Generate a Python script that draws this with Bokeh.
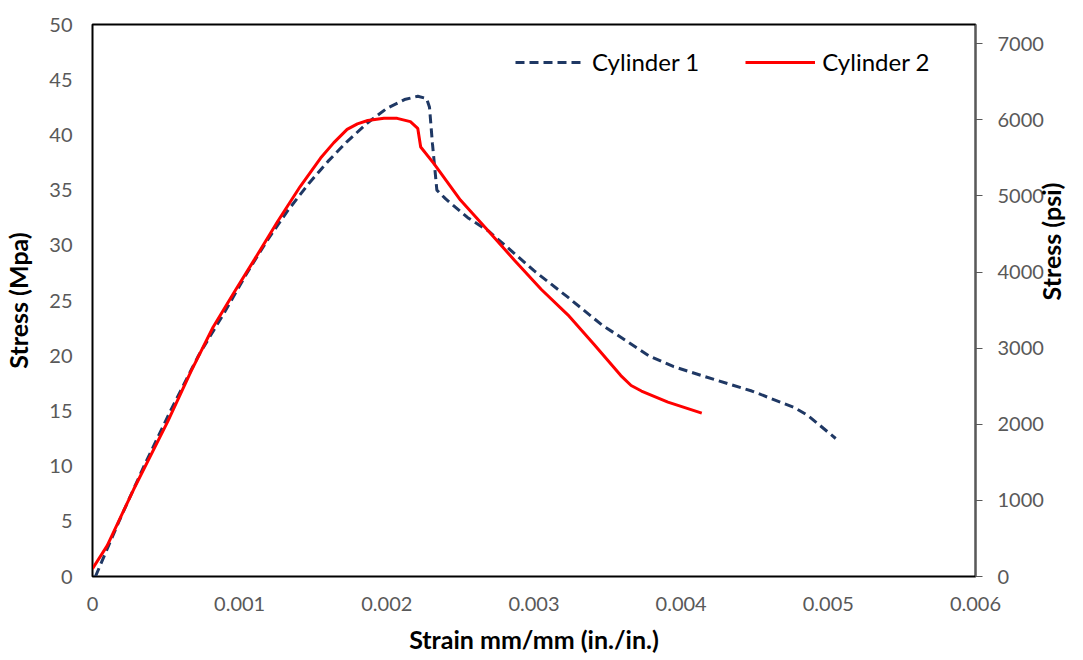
import math
from bokeh.plotting import figure
from bokeh.models import Range1d, LinearAxis, FixedTicker, Legend, LegendItem
from bokeh.embed import file_html
from bokeh.resources import INLINE

# Cylinder 1 (dashed navy)
cyl1_strain = [0.00002, 0.00018, 0.00035, 0.00053, 0.00072, 0.00090, 0.00105, 0.00119,
               0.00133, 0.00147, 0.00160, 0.00173, 0.00187, 0.00200, 0.00212, 0.00221,
               0.00227, 0.00229, 0.00231, 0.00234, 0.00240, 0.00255, 0.00269, 0.00282,
               0.00300, 0.00323, 0.00346, 0.00362, 0.00378, 0.00395, 0.00414, 0.00448,
               0.00477, 0.00486, 0.00505]
cyl1_stress = [0.0, 5.0, 10.0, 15.0, 20.0, 24.0, 27.5, 30.5,
               33.2, 35.6, 37.6, 39.4, 41.1, 42.4, 43.2, 43.5,
               43.3, 42.5, 39.2, 35.0, 34.2, 32.5, 31.3, 29.8,
               27.7, 25.3, 22.8, 21.4, 20.0, 19.0, 18.2, 16.8,
               15.3, 14.6, 12.5]

# Cylinder 2 (solid red)
cyl2_strain = [0.0, 0.00010, 0.00028, 0.00051, 0.00067, 0.00082, 0.00097, 0.00110,
               0.00126, 0.00141, 0.00155, 0.00164, 0.00173, 0.00180, 0.00187, 0.00198,
               0.00207, 0.00216, 0.00221, 0.00223, 0.00232, 0.00250, 0.00269, 0.00287,
               0.00305, 0.00323, 0.00341, 0.00359, 0.00366, 0.00373, 0.00391, 0.00414]
cyl2_stress = [0.7, 2.8, 7.9, 14.0, 18.6, 22.6, 25.9, 28.7,
               32.2, 35.3, 37.9, 39.3, 40.5, 41.0, 41.3, 41.5,
               41.5, 41.2, 40.6, 38.9, 37.4, 34.1, 31.3, 28.6,
               26.0, 23.7, 21.0, 18.2, 17.3, 16.8, 15.8, 14.8]

x_ticks = [0, 0.001, 0.002, 0.003, 0.004, 0.005, 0.006]
x_tick_labels = ["0", "0.001", "0.002", "0.003", "0.004", "0.005", "0.006"]
y_ticks = [0, 5, 10, 15, 20, 25, 30, 35, 40, 45, 50]
psi_ticks = [0, 1000, 2000, 3000, 4000, 5000, 6000, 7000]
MPA_TO_PSI = 145.038

FONT = "Lato"
TICK_COLOR = "#595959"

p = figure(width=1083, height=660, output_backend="svg", toolbar_location=None,
           x_range=Range1d(0, 0.006), y_range=Range1d(0, 50),
           min_border_left=92, min_border_right=108, min_border_top=24, min_border_bottom=84)
p.extra_y_ranges = {"psi": Range1d(0, 50 * MPA_TO_PSI)}

p.xgrid.visible = False
p.ygrid.visible = False
p.outline_line_color = "black"
p.outline_line_width = 2
p.background_fill_color = "white"
p.border_fill_color = "white"

r1 = p.line(cyl1_strain, cyl1_stress, line_color="#1F3864", line_width=3, line_dash="9 5")
r2 = p.line(cyl2_strain, cyl2_stress, line_color="#FF0000", line_width=3)

# bottom axis
xa = p.xaxis[0]
xa.ticker = FixedTicker(ticks=x_ticks)
xa.major_label_overrides = {t: l for t, l in zip(x_ticks, x_tick_labels)}
xa.axis_label = "Strain mm/mm (in./in.)"

# left axis
ya = p.yaxis[0]
ya.ticker = FixedTicker(ticks=y_ticks)
ya.axis_label = "Stress (Mpa)"

# right axis
ra = LinearAxis(y_range_name="psi", ticker=FixedTicker(ticks=psi_ticks), axis_label="Stress (psi)")
p.add_layout(ra, "right")

for ax in (xa, ya, ra):
    ax.major_label_text_font = FONT
    ax.major_label_text_font_size = "20px"
    ax.major_label_text_color = TICK_COLOR
    ax.axis_label_text_font = FONT
    ax.axis_label_text_font_size = "25px"
    ax.axis_label_text_font_style = "bold"
    ax.axis_label_text_color = "black"
    ax.minor_tick_line_color = None

xa.major_tick_line_color = None
xa.major_tick_in = 0
xa.major_tick_out = 0
xa.axis_line_color = "black"
xa.major_label_standoff = 20
xa.axis_label_standoff = 10

ya.major_tick_line_color = None
ya.major_tick_in = 0
ya.major_tick_out = 0
ya.axis_line_color = "black"
ya.major_label_standoff = 20
ya.axis_label_standoff = 13

ra.axis_line_color = "#595959"
ra.major_tick_line_color = "#595959"
ra.major_tick_in = 0
ra.major_tick_out = 7
ra.major_label_standoff = 15
ra.axis_label_standoff = 4
ra.major_label_orientation = "horizontal"
ra.axis_label_orientation = math.pi / 2

legend = Legend(items=[LegendItem(label="Cylinder 1", renderers=[r1]),
                       LegendItem(label="Cylinder 2", renderers=[r2])],
                orientation="horizontal", location=(423, 500),
                glyph_width=70, glyph_height=20, label_standoff=7, spacing=46,
                padding=0, margin=0, border_line_color=None, background_fill_alpha=0,
                label_text_font=FONT, label_text_font_size="24px", label_text_color="black")
p.add_layout(legend)

open("out.html", "w").write(file_html(p, INLINE))
